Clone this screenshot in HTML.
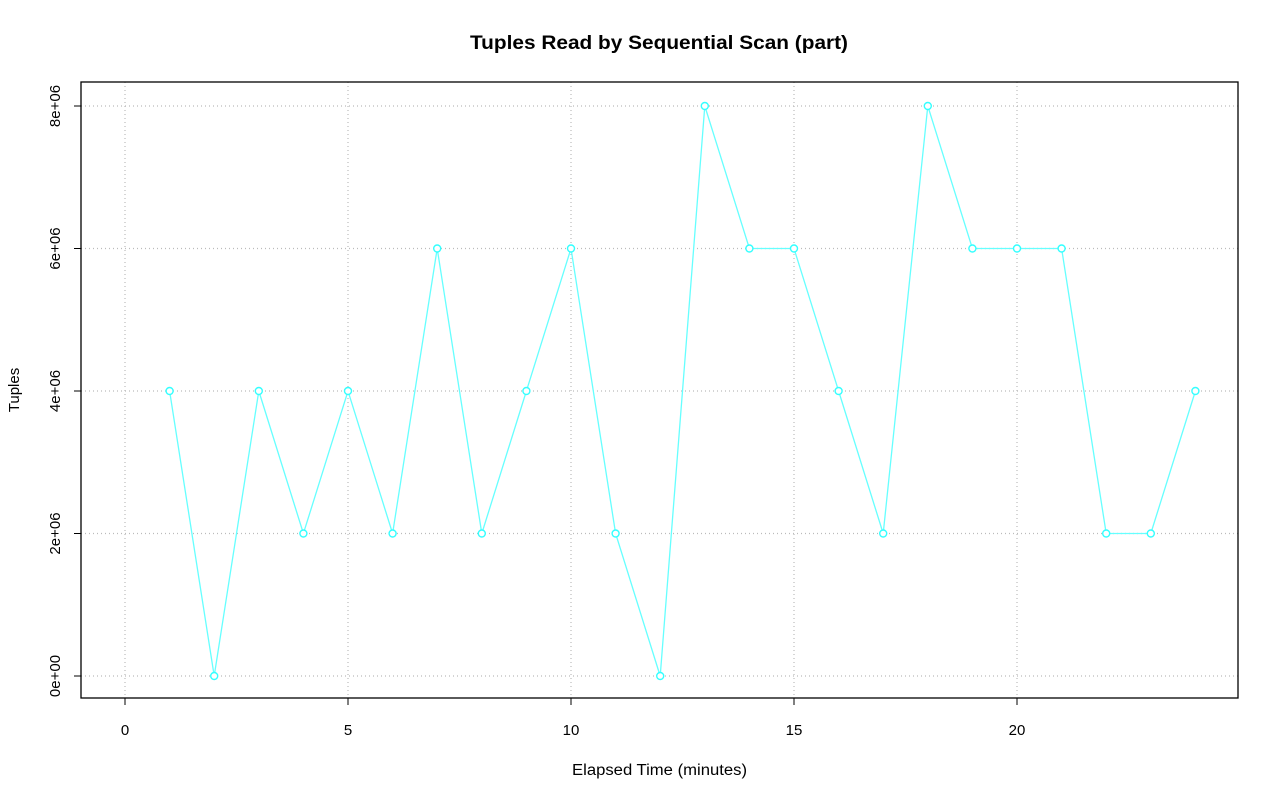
<!DOCTYPE html>
<html><head><meta charset="utf-8"><style>
html,body{margin:0;padding:0;background:#fff;}
svg{display:block;font-family:"Liberation Sans",Arial,sans-serif;}
</style></head><body>
<svg width="1280" height="801" viewBox="0 0 1280 801" xmlns="http://www.w3.org/2000/svg">
<rect width="1280" height="801" fill="#fff"/>
<text x="470" y="49" font-size="19.5" font-weight="bold" textLength="378" lengthAdjust="spacingAndGlyphs">Tuples Read by Sequential Scan (part)</text>
<g stroke="#bbb" stroke-width="1.2" stroke-dasharray="1,3">
<line x1="125" y1="82" x2="125" y2="698"/><line x1="348" y1="82" x2="348" y2="698"/>
<line x1="571" y1="82" x2="571" y2="698"/><line x1="794" y1="82" x2="794" y2="698"/>
<line x1="1017" y1="82" x2="1017" y2="698"/>
<line x1="81" y1="676" x2="1238" y2="676"/><line x1="81" y1="533.5" x2="1238" y2="533.5"/>
<line x1="81" y1="391" x2="1238" y2="391"/><line x1="81" y1="248.5" x2="1238" y2="248.5"/>
<line x1="81" y1="106" x2="1238" y2="106"/>
</g>
<rect x="81" y="82" width="1157" height="616" fill="none" stroke="#000" stroke-width="1.3"/>
<g stroke="#000" stroke-width="1">
<line x1="125" y1="698" x2="125" y2="705"/><line x1="348" y1="698" x2="348" y2="705"/>
<line x1="571" y1="698" x2="571" y2="705"/><line x1="794" y1="698" x2="794" y2="705"/>
<line x1="1017" y1="698" x2="1017" y2="705"/>
<line x1="74" y1="676" x2="81" y2="676"/><line x1="74" y1="533.5" x2="81" y2="533.5"/>
<line x1="74" y1="391" x2="81" y2="391"/><line x1="74" y1="248.5" x2="81" y2="248.5"/>
<line x1="74" y1="106" x2="81" y2="106"/>
</g>
<g font-size="15" text-anchor="middle">
<text x="125" y="735">0</text><text x="348" y="735">5</text><text x="571" y="735">10</text>
<text x="794" y="735">15</text><text x="1017" y="735">20</text>
<text transform="translate(60,676) rotate(-90)">0e+00</text>
<text transform="translate(60,533.5) rotate(-90)">2e+06</text>
<text transform="translate(60,391) rotate(-90)">4e+06</text>
<text transform="translate(60,248.5) rotate(-90)">6e+06</text>
<text transform="translate(60,106) rotate(-90)">8e+06</text>
<text transform="translate(19,390) rotate(-90)">Tuples</text>
</g>
<text x="572" y="775" font-size="15.5" textLength="175" lengthAdjust="spacingAndGlyphs">Elapsed Time (minutes)</text>
<polyline fill="none" stroke="#6ff" stroke-width="1.3" points="169.6,391 214.2,676 258.8,391 303.4,533.5 348,391 392.6,533.5 437.2,248.5 481.8,533.5 526.4,391 571,248.5 615.6,533.5 660.2,676 704.8,106 749.4,248.5 794,248.5 838.6,391 883.2,533.5 927.8,106 972.4,248.5 1017,248.5 1061.6,248.5 1106.2,533.5 1150.8,533.5 1195.4,391"/>
<g fill="#fff" stroke="#3ff" stroke-width="1.4">
<circle cx="169.6" cy="391" r="3.5"/><circle cx="214.2" cy="676" r="3.5"/><circle cx="258.8" cy="391" r="3.5"/>
<circle cx="303.4" cy="533.5" r="3.5"/><circle cx="348" cy="391" r="3.5"/><circle cx="392.6" cy="533.5" r="3.5"/>
<circle cx="437.2" cy="248.5" r="3.5"/><circle cx="481.8" cy="533.5" r="3.5"/><circle cx="526.4" cy="391" r="3.5"/>
<circle cx="571" cy="248.5" r="3.5"/><circle cx="615.6" cy="533.5" r="3.5"/><circle cx="660.2" cy="676" r="3.5"/>
<circle cx="704.8" cy="106" r="3.5"/><circle cx="749.4" cy="248.5" r="3.5"/><circle cx="794" cy="248.5" r="3.5"/>
<circle cx="838.6" cy="391" r="3.5"/><circle cx="883.2" cy="533.5" r="3.5"/><circle cx="927.8" cy="106" r="3.5"/>
<circle cx="972.4" cy="248.5" r="3.5"/><circle cx="1017" cy="248.5" r="3.5"/><circle cx="1061.6" cy="248.5" r="3.5"/>
<circle cx="1106.2" cy="533.5" r="3.5"/><circle cx="1150.8" cy="533.5" r="3.5"/><circle cx="1195.4" cy="391" r="3.5"/>
</g>
</svg>
</body></html>
